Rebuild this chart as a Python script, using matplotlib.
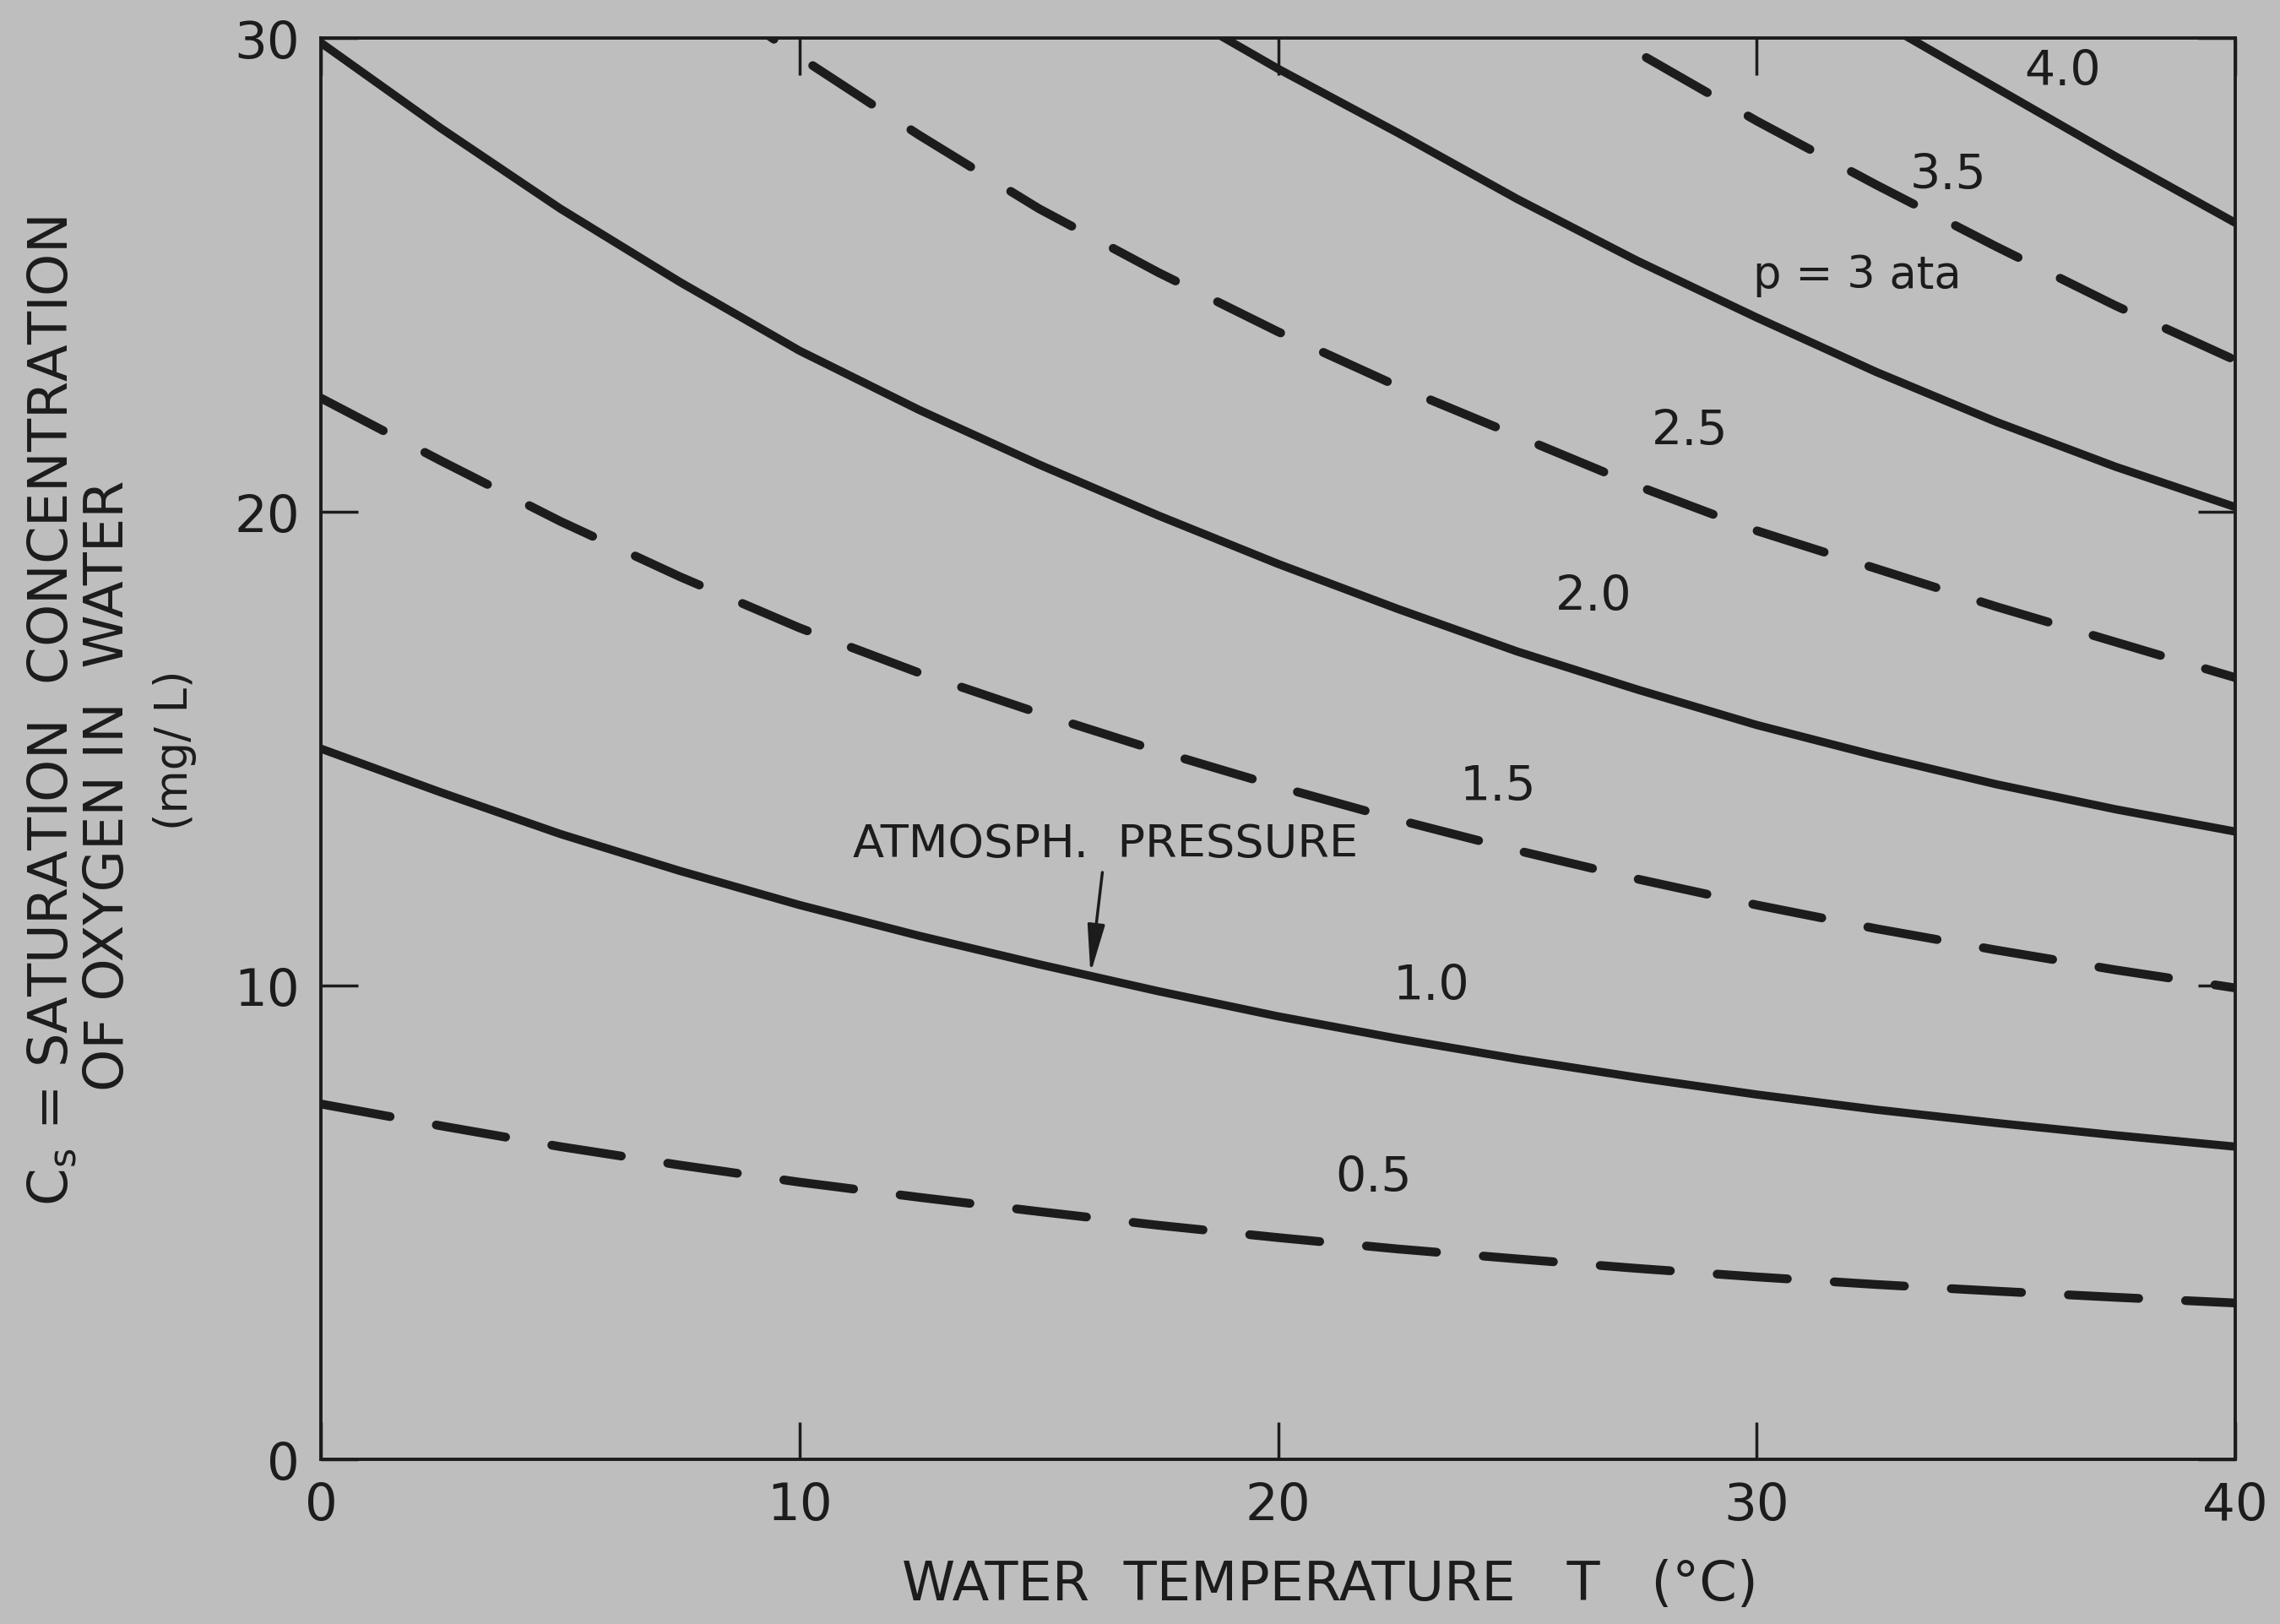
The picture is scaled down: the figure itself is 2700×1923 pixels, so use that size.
# Saturation concentration of oxygen in water vs. temperature, for several pressures

import numpy as np
import matplotlib
matplotlib.use("Agg")
import matplotlib.pyplot as plt

# ----------------------------------------------------
# 1. Data (mg/L), every 2.5 deg C
# ----------------------------------------------------
temp = [0, 2.5, 5, 7.5, 10, 12.5, 15, 17.5, 20, 22.5, 25, 27.5, 30, 32.5, 35, 37.5, 40]

cs_05 = [7.5, 7.04, 6.6, 6.21, 5.85, 5.53, 5.23, 4.94, 4.68, 4.44, 4.23, 4.03,
         3.85, 3.69, 3.55, 3.42, 3.3]
cs_10 = [15.0, 14.08, 13.2, 12.42, 11.7, 11.05, 10.45, 9.88, 9.35, 8.88, 8.45, 8.06,
         7.7, 7.38, 7.1, 6.84, 6.6]
cs_15 = [22.4, 21.08, 19.8, 18.63, 17.55, 16.6, 15.75, 14.95, 14.2, 13.5, 12.85, 12.25,
         11.7, 11.2, 10.75, 10.33, 9.95]
cs_20 = [29.9, 28.1, 26.4, 24.85, 23.4, 22.15, 21.0, 19.92, 18.9, 17.95, 17.05, 16.25,
         15.5, 14.85, 14.25, 13.72, 13.25]
cs_25 = [37.5, 35.3, 33.2, 31.35, 29.6, 27.95, 26.4, 25.05, 23.8, 22.65, 21.6, 20.55,
         19.6, 18.8, 18.0, 17.25, 16.5]
cs_30 = [45.0, 42.2, 39.7, 37.55, 35.6, 33.9, 32.3, 30.8, 29.35, 28.0, 26.6, 25.3,
         24.1, 22.95, 21.9, 20.95, 20.1]
cs_35 = [52.5, 49.4, 46.6, 44.2, 41.9, 39.8, 37.8, 36.0, 34.3, 32.7, 31.15, 29.7,
         28.25, 26.9, 25.6, 24.35, 23.2]
cs_40 = [59.5, 56.0, 52.9, 50.2, 47.6, 45.2, 42.9, 40.8, 38.8, 36.9, 35.1, 33.5,
         31.9, 30.4, 28.95, 27.5, 26.1]

curve_labels = ["0.5", "1.0", "1.5", "2.0", "2.5", "p = 3 ata", "3.5", "4.0"]
label_x = [22.0, 23.2, 24.6, 26.6, 28.6, 32.1, 34.0, 36.4]
label_y = [5.95, 10.0, 14.2, 18.2, 21.7, 25.0, 27.1, 29.3]
label_size = [41, 41, 41, 41, 41, 38, 41, 41]

# ----------------------------------------------------
# 2. Figure
# ----------------------------------------------------
bg = "#bebebe"
ink = "#1c1c1c"

plt.rcParams["font.family"] = ["DejaVu Sans"]
plt.rcParams["lines.scale_dashes"] = False

fig = plt.figure(figsize=(27, 19.24), dpi=100, facecolor=bg)
ax = fig.add_axes([380 / 2700, 1 - 1729 / 1924, (2647 - 380) / 2700, (1729 - 46) / 1924])
ax.set_facecolor(bg)

series = [cs_05, cs_10, cs_15, cs_20, cs_25, cs_30, cs_35, cs_40]
for i, cs in enumerate(series):
    dashed = (i % 2 == 0)
    if dashed:
        ax.plot(temp, cs, color=ink, lw=7.5, linestyle=(0, (60, 40)),
                dash_capstyle="round", dash_joinstyle="round")
    else:
        ax.plot(temp, cs, color=ink, lw=7.0, solid_capstyle="round",
                solid_joinstyle="round")

for txt, x, y, fs in zip(curve_labels, label_x, label_y, label_size):
    ax.text(x, y, txt, fontsize=fs, color=ink, ha="center", va="center")

# arrow pointing at the atmospheric pressure curve
ax.annotate("ATMOSPH.  PRESSURE", xy=(16.08, 10.25), xytext=(16.4, 13.0),
            fontsize=39, color=ink, ha="center", va="center",
            arrowprops=dict(arrowstyle="-|>,head_length=0.9,head_width=0.16",
                            color=ink, lw=2.5, shrinkA=4, shrinkB=0))

ax.set_xlim(0, 40)
ax.set_ylim(0, 30)
ax.set_xticks([0, 10, 20, 30, 40])
ax.set_yticks([0, 10, 20, 30])
ax.tick_params(direction="in", top=True, right=True, length=32, width=2.5,
               labelsize=44, colors=ink, pad=18)
for s in ax.spines.values():
    s.set_linewidth(2.8)
    s.set_color(ink)

# axis titles
fig.text(1575 / 2700, 1 - 1877 / 1924, "WATER  TEMPERATURE   T   (°C)",
         fontsize=46, color=ink, ha="center", va="center")
fig.text(62 / 2700, 1 - 842 / 1924, r"C$_\mathregular{s}$ = SATURATION  CONCENTRATION",
         fontsize=46, color=ink, ha="center", va="center", rotation=90)
fig.text(128 / 2700, 1 - 930 / 1924, "OF OXYGEN IN  WATER",
         fontsize=46, color=ink, ha="center", va="center", rotation=90)
fig.text(207 / 2700, 1 - 888 / 1924, "(mg/ L)",
         fontsize=38, color=ink, ha="center", va="center", rotation=90)

fig.savefig("out.png", dpi=100, facecolor=bg)
